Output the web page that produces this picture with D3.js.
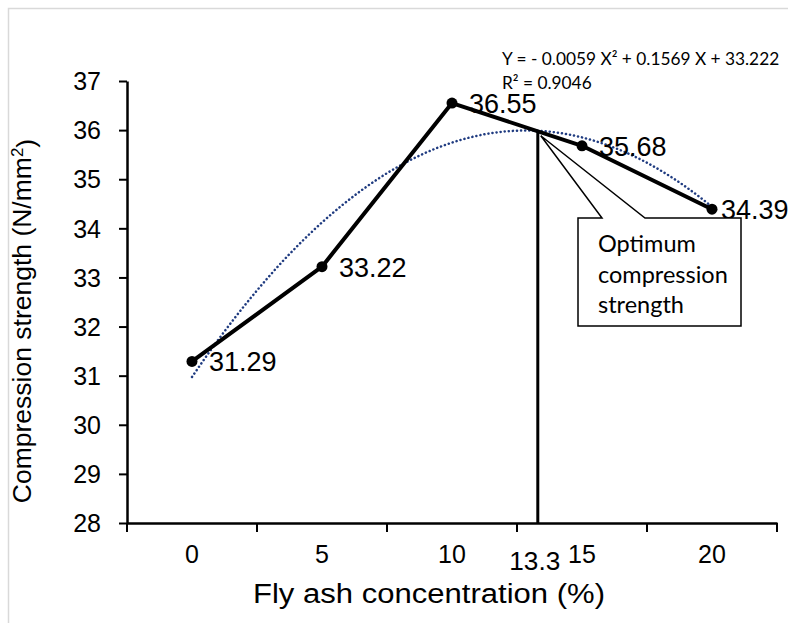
<!DOCTYPE html>
<html>
<head>
<meta charset="utf-8">
<script src="https://cdn.jsdelivr.net/npm/d3@7"></script>
<style>
  body { margin: 0; background: #fff; }
  svg { display: block; }
</style>
</head>
<body>
<div id="chart"></div>
<script>
// Set up SVG dimensions
const w = 788;
const h = 623;
const margin = {top: 81, right: 11, bottom: 100, left: 127};

// Data
const categories = ["0", "5", "10", "15", "20"];
const concentration = [0, 5, 10, 15, 20];
const strength = [31.29, 33.22, 36.55, 35.68, 34.39];
const yTicks = [28, 29, 30, 31, 32, 33, 34, 35, 36, 37];
const optimumX = 13.3;
const equationLines = ["Y = - 0.0059 X² + 0.1569 X + 33.222", "R² = 0.9046"];
const calloutLines = ["Optimum", "compression", "strength"];

const svg = d3.select("#chart")
  .append("svg")
  .attr("width", w)
  .attr("height", h)
  .style("background-color", "white");

// chart frame (only top and left edges are visible)
svg.append("rect")
  .attr("x", 8.5).attr("y", 8.5)
  .attr("width", w + 20).attr("height", h + 20)
  .attr("fill", "none")
  .attr("stroke", "#d9d9d9")
  .attr("stroke-width", 1.5);

// X scale (category axis, ticks between categories)
const xScale = d3.scaleBand()
  .domain(categories)
  .range([margin.left, w - margin.right])
  .paddingInner(0).paddingOuter(0);
const bw = xScale.bandwidth();
const xCenter = (c) => xScale(c) + bw / 2;

// linear version of the same axis, for the 13.3 marker and the trendline
const xLin = d3.scaleLinear()
  .domain([concentration[0], concentration[concentration.length - 1]])
  .range([xCenter(categories[0]), xCenter(categories[categories.length - 1])]);

// Y scale
const yScale = d3.scaleLinear()
  .domain([28, 37])
  .range([h - margin.bottom, margin.top]);

// quadratic least-squares trendline, fitted on the category index like Excel
function polyFit(xs, ys) {
  const n = xs.length;
  const s = [0, 0, 0, 0, 0];
  const t = [0, 0, 0];
  for (let i = 0; i < n; i++) {
    for (let k = 0; k < 5; k++) s[k] += Math.pow(xs[i], k);
    for (let k = 0; k < 3; k++) t[k] += ys[i] * Math.pow(xs[i], k);
  }
  const A = [[s[0], s[1], s[2], t[0]], [s[1], s[2], s[3], t[1]], [s[2], s[3], s[4], t[2]]];
  for (let i = 0; i < 3; i++) {
    for (let j = i + 1; j < 3; j++) {
      const f = A[j][i] / A[i][i];
      for (let k = i; k < 4; k++) A[j][k] -= f * A[i][k];
    }
  }
  const c = [0, 0, 0];
  for (let i = 2; i >= 0; i--) {
    let v = A[i][3];
    for (let k = i + 1; k < 3; k++) v -= A[i][k] * c[k];
    c[i] = v / A[i][i];
  }
  return (x) => c[0] + c[1] * x + c[2] * x * x;
}
const idx = concentration.map((d, i) => i + 1);
const fit = polyFit(idx, strength);
const fitAt = (conc) => fit(conc / 5 + 1);

// Axes
const yAxis = d3.axisLeft(yScale)
  .tickValues(yTicks)
  .tickSize(8)
  .tickSizeOuter(0)
  .tickPadding(18);

const gy = svg.append("g")
  .attr("transform", "translate(" + margin.left + ",0)")
  .call(yAxis);
gy.select(".domain").attr("stroke", "black").attr("stroke-width", 2.5);
gy.selectAll(".tick line").attr("stroke", "black").attr("stroke-width", 2);
gy.selectAll("text")
  .attr("dy", "0.35em")
  .style("font-family", "'Liberation Sans', Arial, sans-serif")
  .style("font-size", "25px")
  .attr("fill", "black");

const xAxis = d3.axisBottom(xScale).tickSize(0).tickPadding(22);
const gx = svg.append("g")
  .attr("transform", "translate(0," + (h - margin.bottom) + ")")
  .call(xAxis);
gx.select(".domain").attr("stroke", "black").attr("stroke-width", 2.5);
gx.selectAll("text")
  .style("font-family", "'Liberation Sans', Arial, sans-serif")
  .style("font-size", "25px")
  .attr("fill", "black");

// tick marks on category boundaries
const boundaries = categories.map((c) => xScale(c)).concat([xScale(categories[categories.length - 1]) + bw]);
svg.selectAll(".xBoundary")
  .data(boundaries)
  .enter()
  .append("line")
  .attr("class", "xBoundary")
  .attr("x1", (d) => d).attr("x2", (d) => d)
  .attr("y1", h - margin.bottom).attr("y2", h - margin.bottom + 9)
  .attr("stroke", "black")
  .attr("stroke-width", 2);

// optimum marker label on the axis
svg.append("text")
  .attr("x", xLin(optimumX) - 3)
  .attr("y", h - margin.bottom + 47)
  .attr("text-anchor", "middle")
  .attr("textLength", 51)
  .attr("lengthAdjust", "spacingAndGlyphs")
  .style("font-family", "'Liberation Sans', Arial, sans-serif")
  .style("font-size", "25px")
  .text("13.3");

// Trendline (dotted)
const trendPts = d3.range(concentration[0], concentration[concentration.length - 1] + 0.01, 0.25);
svg.append("path")
  .datum(trendPts)
  .attr("d", d3.line().x((d) => xLin(d)).y((d) => yScale(fitAt(d))))
  .attr("fill", "none")
  .attr("stroke", "#1f3b80")
  .attr("stroke-width", 2.5)
  .attr("stroke-dasharray", "0.1,4")
  .attr("stroke-linecap", "round");

// Series line
svg.append("path")
  .datum(strength)
  .attr("d", d3.line().x((d, i) => xCenter(categories[i])).y((d) => yScale(d)))
  .attr("fill", "none")
  .attr("stroke", "black")
  .attr("stroke-width", 4)
  .attr("stroke-linejoin", "round");

svg.selectAll(".marker")
  .data(strength)
  .enter()
  .append("circle")
  .attr("class", "marker")
  .attr("cx", (d, i) => xCenter(categories[i]))
  .attr("cy", (d) => yScale(d))
  .attr("r", 5.5)
  .attr("fill", "black");

// data labels
svg.selectAll(".dataLabel")
  .data(strength)
  .enter()
  .append("text")
  .attr("class", "dataLabel")
  .attr("x", (d, i) => xCenter(categories[i]) + (i === strength.length - 1 ? 9 : 17))
  .attr("y", (d) => yScale(d) + 10)
  .style("font-family", "'Liberation Sans', Arial, sans-serif")
  .style("font-size", "27px")
  .text((d) => d.toFixed(2));

// vertical optimum line
const optX = xLin(optimumX);
const optY = yScale(fitAt(optimumX));
svg.append("line")
  .attr("x1", optX).attr("x2", optX)
  .attr("y1", optY).attr("y2", h - margin.bottom)
  .attr("stroke", "black")
  .attr("stroke-width", 3);

// callout box
const box = {x0: 578, y0: 218, x1: 741, y1: 326, w0: 602, w1: 645};
const tipX = optX + 3, tipY = optY + 5;
svg.append("path")
  .attr("d", "M" + box.x0 + "," + box.y0 + "L" + box.w0 + "," + box.y0 +
    "L" + tipX + "," + tipY + "L" + box.w1 + "," + box.y0 +
    "L" + box.x1 + "," + box.y0 + "L" + box.x1 + "," + box.y1 +
    "L" + box.x0 + "," + box.y1 + "Z")
  .attr("fill", "white")
  .attr("stroke", "black")
  .attr("stroke-width", 1.5)
  .attr("stroke-linejoin", "miter");

svg.selectAll(".calloutText")
  .data(calloutLines)
  .enter()
  .append("text")
  .attr("class", "calloutText")
  .attr("x", 598)
  .attr("y", (d, i) => 252 + i * 30.5)
  .style("font-family", "Lato, 'Open Sans', sans-serif")
  .style("font-size", "23.5px")
  .text((d) => d);

// trendline equation
svg.selectAll(".eqText")
  .data(equationLines)
  .enter()
  .append("text")
  .attr("class", "eqText")
  .attr("x", 502)
  .attr("y", (d, i) => 65 + i * 24)
  .style("font-family", "Lato, 'Open Sans', sans-serif")
  .style("font-size", "17.3px")
  .text((d) => d);

// Axis titles
svg.append("text")
  .attr("x", 429)
  .attr("y", 603)
  .attr("text-anchor", "middle")
  .attr("textLength", 352)
  .attr("lengthAdjust", "spacingAndGlyphs")
  .style("font-family", "'Liberation Sans', Arial, sans-serif")
  .style("font-size", "27px")
  .text("Fly ash concentration (%)");

const yTitle = svg.append("text")
  .attr("transform", "translate(31," + 321 + ") rotate(-90)")
  .attr("text-anchor", "middle")
  .style("font-family", "'Liberation Sans', Arial, sans-serif")
  .style("font-size", "26.5px");
yTitle.append("tspan").text("Compression strength (N/mm");
yTitle.append("tspan").attr("dy", "-0.45em").style("font-size", "17px").text("2");
yTitle.append("tspan").attr("dy", "0.45em").text(")");
</script>
</body>
</html>
